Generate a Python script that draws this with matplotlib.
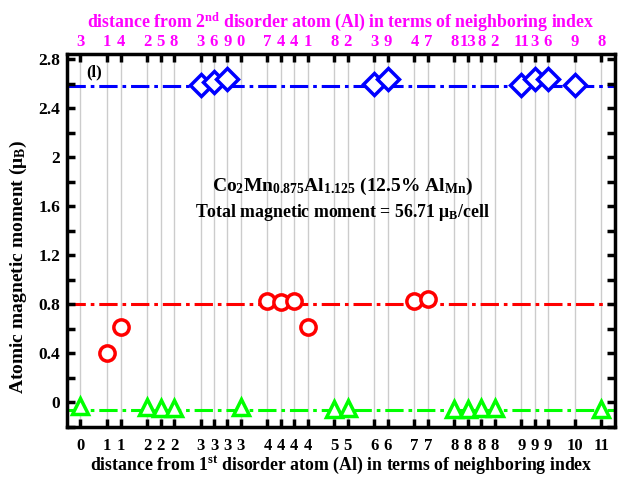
import matplotlib
matplotlib.use("Agg")
import matplotlib.pyplot as plt
from matplotlib.ticker import MultipleLocator

plt.rcParams['font.family'] = ['Liberation Serif', 'DejaVu Serif']
plt.rcParams['font.weight'] = 'bold'
plt.rcParams['mathtext.fontset'] = 'custom'
plt.rcParams['mathtext.rm'] = 'Liberation Serif:bold'
plt.rcParams['mathtext.it'] = 'Liberation Serif:bold'
plt.rcParams['mathtext.bf'] = 'Liberation Serif:bold'

# site slots along the x axis and their neighbor indices
site_pos = [0, 2, 3, 5, 6, 7, 9, 10, 11, 12, 14, 15, 16, 17, 19, 20, 22, 23,
            25, 26, 28, 29, 30, 31, 33, 34, 35, 37, 39]
first_idx = ['0', '1', '1', '2', '2', '2', '3', '3', '3', '3', '4', '4', '4', '4',
             '5', '5', '6', '6', '7', '7', '8', '8', '8', '8', '9', '9', '9', '10', '11']
second_idx = ['3', '1', '4', '2', '5', '8', '3', '6', '9', '0', '7', '4', '4', '1',
              '8', '2', '3', '9', '4', '7', '8', '13', '8', '2', '11', '3', '6', '9', '8']

# Co sites
co_x = [9, 10, 11, 22, 23, 33, 34, 35, 37]
co_m = [2.59, 2.61, 2.64, 2.60, 2.64, 2.59, 2.64, 2.64, 2.59]
co_avg = 2.58

# Mn sites
mn_x = [2, 3, 14, 15, 16, 17, 25, 26]
mn_m = [0.40, 0.615, 0.83, 0.82, 0.83, 0.615, 0.825, 0.84]
mn_avg = 0.80

# Al sites
al_x = [0, 5, 6, 7, 12, 19, 20, 28, 29, 30, 31, 39]
al_m = [-0.03, -0.035, -0.045, -0.05, -0.035, -0.055, -0.05, -0.055, -0.055, -0.05, -0.05, -0.055]
al_avg = -0.065

fig = plt.figure(figsize=(6.21, 4.79), dpi=100)
ax = fig.add_axes([0.108, 0.109, 0.882, 0.778])

for x in site_pos:
    ax.axvline(x, color='#cccccc', lw=1, zorder=0)

dash = (0, (6, 1.6, 1.2, 1.6))
ax.axhline(co_avg, color='#0000ff', lw=2.2, ls=dash, zorder=1)
ax.axhline(mn_avg, color='#ff0000', lw=2.2, ls=dash, zorder=1)
ax.axhline(al_avg, color='#00ff00', lw=2.2, ls=dash, zorder=1)

ax.plot(co_x, co_m, 'D', ms=11, mfc='white', mec='#0000ff', mew=2.5, ls='none', zorder=3)
ax.plot(mn_x, mn_m, 'o', ms=11, mfc='white', mec='#ff0000', mew=2.5, ls='none', zorder=3)
ax.plot(al_x, al_m, '^', ms=12, mfc='white', mec='#00ff00', mew=2.5, ls='none', zorder=3)

ax.set_xlim(-1, 40)
ax.set_xticks(site_pos)
ax.set_xticklabels(first_idx)
ax.yaxis.set_minor_locator(MultipleLocator(0.2))
ax.set_ylim(-0.2, 2.84)
ax.set_yticks([0, 0.4, 0.8, 1.2, 1.6, 2, 2.4, 2.8])
ax.set_yticklabels(['0', '0.4', '0.8', '1.2', '1.6', '2', '2.4', '2.8'])

ax.tick_params(axis='x', direction='in', length=6, width=2.5, labelsize=12, pad=8)
ax.tick_params(axis='y', which='both', direction='in', length=6, width=2.5,
               labelsize=12.5, right=True, pad=5)
for s in ax.spines.values():
    s.set_linewidth(2.5)

ax.set_xlabel('distance from 1$^{st}$ disorder atom (Al) in terms of neighboring index',
              fontsize=12.8, fontweight='bold', labelpad=1)
ax.set_ylabel(r'Atomic magnetic moment ($\mu_B$)', fontsize=14, fontweight='bold')
ax.yaxis.set_label_coords(-0.07, 0.43)

top = ax.secondary_xaxis('top')
top.set_xticks(site_pos)
top.set_xticklabels(second_idx)
top.tick_params(direction='in', length=6, width=2.5, labelsize=12, pad=3,
                labelcolor='#ff00ff')
top.set_xlabel('distance from 2$^{nd}$ disorder atom (Al) in terms of neighboring index',
               fontsize=12.8, fontweight='bold', color='#ff00ff', labelpad=5)

ax.text(1.0, 2.69, '(l)', fontsize=12, fontweight='bold', ha='center', va='center')
ax.text(19.6, 1.76, r'Co$_2$Mn$_{0.875}$Al$_{1.125}$ (12.5% Al$_{Mn}$)',
        fontsize=14, fontweight='bold', ha='center', va='center')
ax.text(19.6, 1.55, r'Total magnetic moment = 56.71 $\mu_B$/cell',
        fontsize=12.8, fontweight='bold', ha='center', va='center')

fig.savefig('out.png', dpi=100)
